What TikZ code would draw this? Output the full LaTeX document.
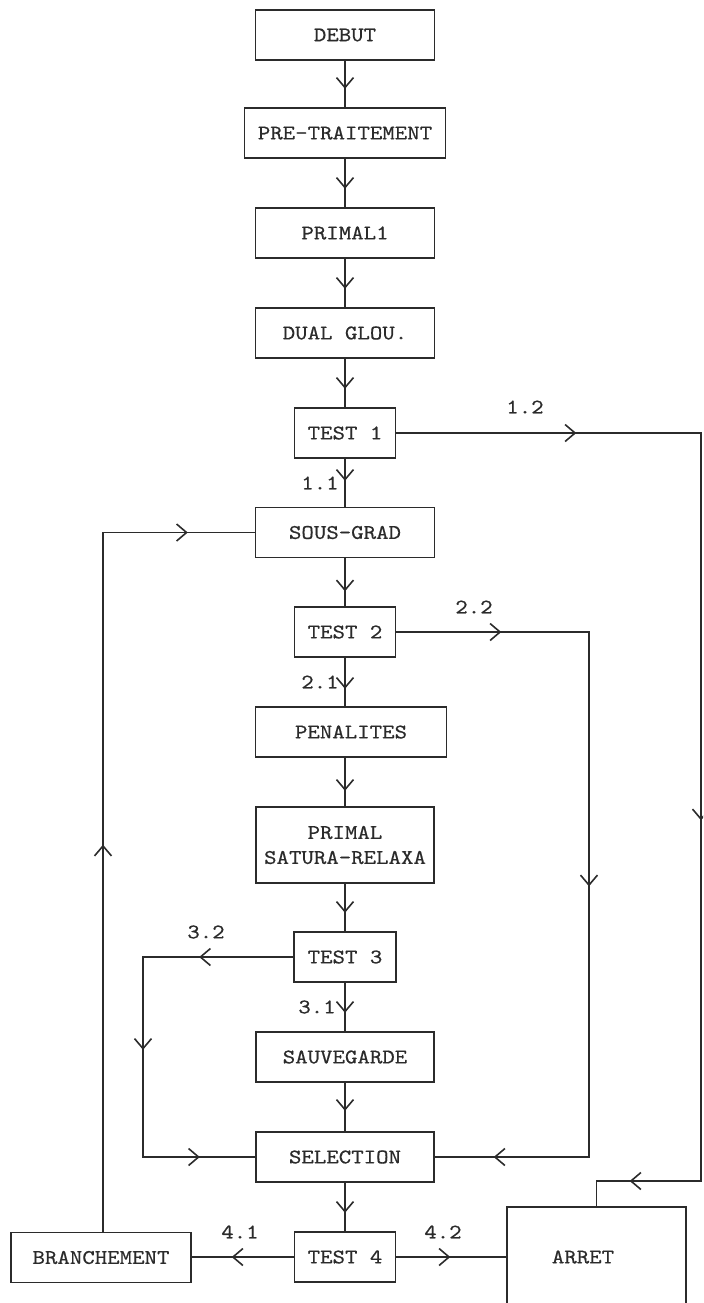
\documentclass[tikz,border=0pt]{standalone}
\usepackage{fontspec}
\setmonofont{Latin Modern Mono}[FakeStretch=1.14, FakeBold=0.5]
\usetikzlibrary{arrows.meta,decorations.markings}
\definecolor{ink}{HTML}{2B2B2B}
\tikzset{
  box/.style={draw=ink, line width=0.8pt, inner sep=0pt, text=ink,
    font=\ttfamily\fontsize{10.4}{12.5}\selectfont, minimum height=25pt, align=center},
  lbl/.style={inner sep=0pt, text=ink, font=\ttfamily\fontsize{10.4}{12.5}\selectfont},
  conn/.style={draw=ink, line width=0.8pt},
  tipat/.style={postaction={decorate, decoration={markings,
    mark=at position #1 with {\arrow[ink, line width=0.8pt]{Straight Barb[length=5pt,width=8.5pt]}}}}},
}
\begin{document}
\begin{tikzpicture}[x=0.5pt,y=-0.5pt]
\useasboundingbox (0,0) rectangle (703,1303);
\clip (0,0) rectangle (703,1303);
% boxes
\node[box, minimum width=89.5pt] (debut) at (345,35) {DEBUT};
\node[box, minimum width=100.5pt] (pre) at (345,133) {PRE-TRAITEMENT};
\node[box, minimum width=89.5pt] (p1) at (345,233) {PRIMAL1};
\node[box, minimum width=89.5pt] (dual) at (345,333) {DUAL GLOU.};
\node[box, minimum width=50.5pt] (t1) at (345,433) {TEST 1};
\node[box, minimum width=89.5pt] (sg) at (345,532.5) {SOUS-GRAD};
\node[box, minimum width=50.5pt] (t2) at (345,632) {TEST 2};
\node[box, minimum width=95.5pt] (pen) at (351,732) {PENALITES};
\node[box, minimum width=89pt, minimum height=38pt] (ps) at (345,845) {PRIMAL\\SATURA-RELAXA};
\node[box, minimum width=51pt] (t3) at (345,957) {TEST 3};
\node[box, minimum width=89pt] (sv) at (345,1057) {SAUVEGARDE};
\node[box, minimum width=89pt] (sel) at (345,1157) {SELECTION};
\node[box, minimum width=50.5pt] (t4) at (345,1257) {TEST 4};
\node[box, minimum width=90pt] (br) at (101,1257.5) {BRANCHEMENT};
\node[box, minimum width=89.5pt, minimum height=65pt] (arret) at (596.5,1272) {};
\node[lbl] (arrettxt) at (583,1257) {ARRET};
% helper coordinates
\coordinate (r1) at (701,1181);
\coordinate (r2) at (589,1157);
\coordinate (l3) at (143,1157);
\coordinate (l4) at (103,532.5);
% main column
\draw[conn, tipat=14pt] (debut.south) -- (pre.north);
\draw[conn, tipat=15pt] (pre.south) -- (p1.north);
\draw[conn, tipat=15pt] (p1.south) -- (dual.north);
\draw[conn, tipat=15pt] (dual.south) -- (t1.north);
\draw[conn, tipat=11pt] (t1.south) -- (sg.north);
\draw[conn, tipat=16.5pt] (sg.south) -- (t2.north);
\draw[conn, tipat=15.5pt] (t2.south) -- (t2.south |- pen.north);
\draw[conn, tipat=16.5pt] (ps.north |- pen.south) -- (ps.north);
\draw[conn, tipat=14.5pt] (ps.south) -- (t3.north);
\draw[conn, tipat=15pt] (t3.south) -- (sv.north);
\draw[conn, tipat=14pt] (sv.south) -- (sel.north);
\draw[conn, tipat=15pt] (sel.south) -- (t4.north);
% branches
\draw[conn, tipat=90pt, tipat=346pt, tipat=562pt]
  (t1.east) -| (r1) -- (r1 -| arret.north) -- (arret.north);
\draw[conn, tipat=52.5pt, tipat=223.5pt, tipat=406.5pt]
  (t2.east) -| (r2) -- (sel.east);
\draw[conn, tipat=47pt, tipat=121.5pt, tipat=203.5pt]
  (t3.west) -| (l3) -- (sel.west);
\draw[conn, tipat=31pt] (t4.west) -- (br.east |- t4.west);
\draw[conn, tipat=27pt] (t4.east) -- (arret.west |- t4.east);
\draw[conn, tipat=193.5pt, tipat=392pt]
  (l4 |- br.north) -- (l4) -- (sg.west);
% labels
\node[lbl] (lab11) at (320,483) {1.1};
\node[lbl] (lab12) at (525,407) {1.2};
\node[lbl] (lab21) at (320,682) {2.1};
\node[lbl] (lab22) at (474,607) {2.2};
\node[lbl] (lab31) at (317,1007) {3.1};
\node[lbl] (lab32) at (206,932) {3.2};
\node[lbl] (lab41) at (240,1232) {4.1};
\node[lbl] (lab42) at (443,1232) {4.2};
\end{tikzpicture}
\end{document}
